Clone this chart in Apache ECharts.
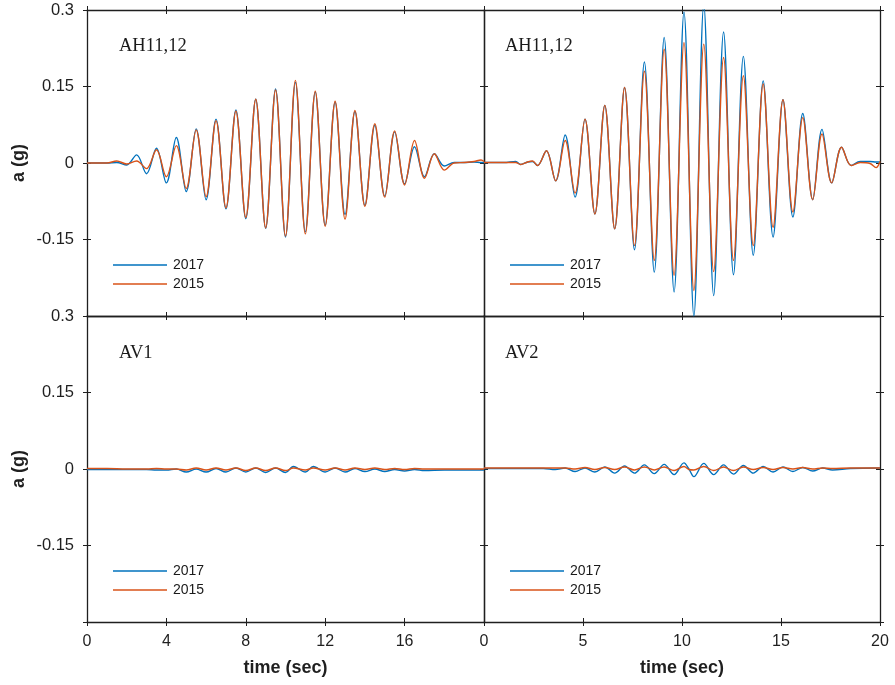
<!DOCTYPE html>
<html><head><meta charset="utf-8">
<script src="https://cdn.jsdelivr.net/npm/echarts@6/dist/echarts.min.js"></script>
<style>html,body{margin:0;padding:0;background:#fff}#c{width:895px;height:685px}</style>
</head><body><div id="c"></div>
<script>
// ---------------- data ----------------
const panelTitles = ['AH11,12', 'AH11,12', 'AV1', 'AV2'];
const seriesNames = ['2017', '2015'];
const leftTimeTicks = [0, 4, 8, 12, 16, 20];
const rightTimeTicks = [0, 5, 10, 15, 20];
const accelTicks = [0.3, 0.15, 0, -0.15, -0.3];
const xTitle = 'time (sec)';
const yTitle = 'a (g)';

// top-left: AH11,12
const tAH1 = [0, 0.5, 1, 1.5, 2, 2.5, 3, 3.5, 4, 4.5, 5, 5.5, 6, 6.5, 7, 7.5, 8, 8.5, 9, 9.5, 10,
  10.5, 11, 11.5, 12, 12.5, 13, 13.5, 14, 14.5, 15, 15.5, 16, 16.5, 17, 17.5, 18, 18.5, 19, 19.5, 19.85, 20];
const ah1_2017 = [0, 0, 0, 0.001, -0.004, 0.016, -0.021, 0.029, -0.039, 0.050, -0.056, 0.067, -0.072, 0.086, -0.090, 0.104, -0.109, 0.125, -0.128, 0.145, -0.145,
  0.158, -0.135, 0.139, -0.122, 0.119, -0.101, 0.101, -0.083, 0.074, -0.065, 0.061, -0.041, 0.032, -0.027, 0.018, -0.006, 0.001, 0.001, 0.002, 0.001, 0.001];
const ah1_2015 = [0, 0, 0, 0.004, -0.002, 0.004, -0.011, 0.026, -0.027, 0.034, -0.050, 0.065, -0.066, 0.083, -0.088, 0.102, -0.107, 0.125, -0.127, 0.143, -0.143,
  0.162, -0.139, 0.141, -0.124, 0.121, -0.110, 0.103, -0.085, 0.077, -0.067, 0.063, -0.043, 0.044, -0.030, 0.018, -0.014, 0.000, 0.001, 0.003, 0.006, 0.003];

// top-right: AH11,12
const tAH2 = [0, 1, 1.6, 1.85, 2.2, 2.45, 2.7, 3.15, 3.62, 4.1, 4.6, 5.1, 5.6, 6.1, 6.6, 7.1, 7.6, 8.1, 8.6, 9.1, 9.6,
  10.1, 10.6, 11.1, 11.6, 12.1, 12.6, 13.1, 13.6, 14.1, 14.6, 15.1, 15.6, 16.1, 16.6, 17.07, 17.56, 18.06, 18.54, 19, 19.5, 19.8, 20];
const ah2_2017 = [0.001, 0.001, 0.003, -0.003, 0.002, 0.003, -0.005, 0.024, -0.035, 0.055, -0.067, 0.086, -0.100, 0.113, -0.129, 0.148, -0.170, 0.198, -0.214, 0.246, -0.253,
  0.296, -0.300, 0.310, -0.260, 0.257, -0.219, 0.209, -0.181, 0.161, -0.145, 0.124, -0.106, 0.097, -0.072, 0.066, -0.039, 0.031, -0.005, 0.003, 0.003, 0.002, 0.002];
const ah2_2015 = [0.001, 0.001, 0.001, -0.003, 0.002, 0.004, -0.005, 0.024, -0.035, 0.044, -0.059, 0.086, -0.100, 0.113, -0.129, 0.148, -0.162, 0.180, -0.191, 0.223, -0.220,
  0.236, -0.250, 0.233, -0.213, 0.207, -0.191, 0.171, -0.162, 0.155, -0.126, 0.124, -0.096, 0.089, -0.072, 0.057, -0.039, 0.031, -0.005, 0.001, -0.001, -0.009, 0.003];

// bottom-left: AV1
const tAV1 = [0, 1, 2, 3, 3.5, 4, 4.5, 5, 5.5, 6, 6.5, 7, 7.5, 8, 8.5, 9, 9.5, 10, 10.4, 11, 11.4, 12,
  12.5, 13, 13.5, 14, 14.5, 15, 15.5, 16, 16.5, 17, 18, 19, 20];
const av1_2017 = [-0.001, -0.001, -0.001, -0.001, -0.002, -0.002, 0.000, -0.006, 0.000, -0.006, 0.001, -0.006, 0.002, -0.006, 0.002, -0.007, 0.002, -0.007, 0.005, -0.006, 0.005, -0.006,
  0.002, -0.006, 0.001, -0.005, 0.000, -0.005, -0.001, -0.004, -0.001, -0.003, -0.002, -0.002, -0.002];
const av1_2015 = [0.001, 0.001, 0.000, 0.000, 0.001, 0.000, 0.000, -0.002, 0.002, -0.002, 0.002, -0.002, 0.002, -0.003, 0.002, -0.003, 0.002, -0.003, 0.002, -0.002, 0.002, -0.002,
  0.002, -0.002, 0.002, -0.001, 0.002, -0.001, 0.001, -0.001, 0.001, 0.000, 0.000, 0.000, 0.000];

// bottom-right: AV2
const tAV2 = [0, 1, 2, 3, 3.6, 4.1, 4.6, 5.1, 5.6, 6.1, 6.6, 7.1, 7.6, 8.1, 8.6, 9.1, 9.6, 10.1, 10.35, 10.6,
  11.1, 11.6, 12.1, 12.6, 13.1, 13.6, 14.1, 14.6, 15.1, 15.6, 16.1, 16.6, 17.1, 17.6, 18.5, 20];
const av2_2017 = [0.001, 0.001, 0.001, 0.001, -0.001, 0.002, -0.005, 0.002, -0.006, 0.004, -0.008, 0.006, -0.008, 0.008, -0.009, 0.009, -0.011, 0.012, 0.000, -0.015,
  0.011, -0.011, 0.008, -0.010, 0.007, -0.008, 0.005, -0.006, 0.004, -0.005, 0.003, -0.004, 0.002, -0.002, 0.001, 0.002];
const av2_2015 = [0.002, 0.002, 0.002, 0.002, 0.002, 0.002, 0.000, 0.003, -0.001, 0.003, -0.001, 0.004, -0.002, 0.004, -0.002, 0.004, -0.003, 0.005, -0.001, -0.002,
  0.005, -0.003, 0.004, -0.003, 0.004, -0.001, 0.003, -0.001, 0.003, 0.000, 0.003, 0.000, 0.002, 0.001, 0.002, 0.002];

// ---------------- chart ----------------
const panels = [
  { t: tAH1, s: [ah1_2017, ah1_2015], ticks: leftTimeTicks },
  { t: tAH2, s: [ah2_2017, ah2_2015], ticks: rightTimeTicks },
  { t: tAV1, s: [av1_2017, av1_2015], ticks: leftTimeTicks },
  { t: tAV2, s: [av2_2017, av2_2015], ticks: rightTimeTicks }
];
const colors = ['#0072BD', '#D95319'];
const AX = '#1f1f1f';
const SANS = "'Liberation Sans', Arial, sans-serif";
const SERIF = "'Liberation Serif', 'Times New Roman', serif";

const grids = [
  { left: 87, top: 10, width: 397, height: 306 },
  { left: 484, top: 10, width: 396, height: 306 },
  { left: 87, top: 316, width: 397, height: 306 },
  { left: 484, top: 316, width: 396, height: 306 }
];

const xAxes = [], yAxes = [], series = [];
const yMin = accelTicks[accelTicks.length - 1], yMax = accelTicks[0];
const yStep = accelTicks[0] - accelTicks[1];
const fmtY = v => (Math.abs(v - yMin) < 1e-9 ? '' : String(+v.toFixed(2)));

panels.forEach((p, g) => {
  const isLeft = g % 2 === 0, isBottom = g >= 2;
  const xStep = p.ticks[1] - p.ticks[0];
  const xBase = { gridIndex: g, type: 'value', min: p.ticks[0], max: p.ticks[p.ticks.length - 1], interval: xStep,
    splitLine: { show: false } };
  const yBase = { gridIndex: g, type: 'value', min: yMin, max: yMax, interval: yStep, splitLine: { show: false } };
  const line = { show: true, onZero: false, lineStyle: { color: AX, width: 1.3 } };
  const noLine = { show: false, onZero: false };
  const tickOut = { show: true, inside: false, length: 4, lineStyle: { color: AX, width: 1 } };
  const tickIn = { show: true, inside: true, length: 4, lineStyle: { color: AX, width: 1 } };

  const mainX = xAxes.length;
  xAxes.push(Object.assign({}, xBase, {
    position: 'bottom', axisLine: line, axisTick: tickOut,
    axisLabel: { show: isBottom, color: AX, fontFamily: SANS, fontSize: 16, margin: 12,
      formatter: v => (isLeft && v === 20 ? '' : String(v)) },
    name: isBottom ? xTitle : '', nameLocation: 'middle', nameGap: 37,
    nameTextStyle: { color: AX, fontFamily: SANS, fontSize: 18, fontWeight: 'bold' }
  }));
  xAxes.push(Object.assign({}, xBase, { position: 'bottom', axisLine: noLine, axisTick: tickIn, axisLabel: { show: false } }));
  xAxes.push(Object.assign({}, xBase, { position: 'top', axisLine: line, axisTick: tickOut, axisLabel: { show: false } }));
  xAxes.push(Object.assign({}, xBase, { position: 'top', axisLine: noLine, axisTick: tickIn, axisLabel: { show: false } }));

  const mainY = yAxes.length;
  yAxes.push(Object.assign({}, yBase, {
    position: 'left', axisLine: line, axisTick: tickOut,
    axisLabel: { show: isLeft, color: AX, fontFamily: SANS, fontSize: 16.5, margin: 13, formatter: fmtY }
  }));
  yAxes.push(Object.assign({}, yBase, { position: 'left', axisLine: noLine, axisTick: tickIn, axisLabel: { show: false } }));
  yAxes.push(Object.assign({}, yBase, { position: 'right', axisLine: line, axisTick: tickOut, axisLabel: { show: false } }));
  yAxes.push(Object.assign({}, yBase, { position: 'right', axisLine: noLine, axisTick: tickIn, axisLabel: { show: false } }));

  p.s.forEach((vals, k) => {
    series.push({
      name: seriesNames[k], type: 'line', xAxisIndex: mainX, yAxisIndex: mainY,
      data: p.t.map((t, i) => [t, vals[i]]),
      smooth: 0.35, symbol: 'none', showSymbol: false, clip: true,
      lineStyle: { color: colors[k], width: 1.4 }, itemStyle: { color: colors[k] },
      z: 2 + k
    });
  });
});

const titlePos = [[119, 37], [505, 37], [119, 344], [505, 344]];
const legendPos = [[113, 258], [510, 258], [113, 564], [510, 564]];

const option = {
  animation: false,
  backgroundColor: '#fff',
  grid: grids.map(g => Object.assign({ containLabel: false }, g)),
  xAxis: xAxes,
  yAxis: yAxes,
  title: panelTitles.map((txt, i) => ({
    text: txt, left: titlePos[i][0], top: titlePos[i][1], padding: 0,
    textStyle: { fontFamily: SERIF, fontSize: 18.5, fontWeight: 'normal', color: '#1a1a1a' }
  })),
  legend: legendPos.map(pos => ({
    data: seriesNames.map(n => ({ name: n, icon: 'rect' })),
    orient: 'vertical', left: pos[0], top: pos[1], padding: 0,
    itemWidth: 54, itemHeight: 1.4, itemGap: 5, selectedMode: false,
    textStyle: { fontFamily: SANS, fontSize: 14, color: '#1a1a1a', padding: [0, 0, 0, 1] }
  })),
  graphic: [163, 469].map(y => ({
    type: 'text', x: 19, y: y, rotation: Math.PI / 2,
    style: { text: yTitle, font: "bold 18px 'Liberation Sans', Arial, sans-serif", fill: AX,
      align: 'center', verticalAlign: 'middle' }
  })),
  series: series
};

const chart = echarts.init(document.getElementById('c'), null, { renderer: 'canvas' });
chart.setOption(option);
</script>
</body></html>
